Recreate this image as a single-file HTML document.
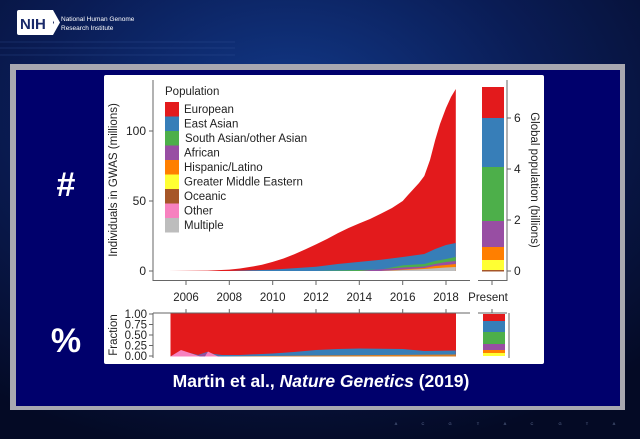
<!DOCTYPE html>
<html><head><meta charset="utf-8"><style>
html,body{margin:0;padding:0;width:640px;height:439px;overflow:hidden;background:#050a2a}
svg{display:block}
</style></head><body>
<svg width="640" height="439" viewBox="0 0 640 439" xmlns="http://www.w3.org/2000/svg" font-family="Liberation Sans, sans-serif">
<defs>
<radialGradient id="bg" cx="0.45" cy="0.25" r="0.8">
<stop offset="0" stop-color="#123a8a"/><stop offset="0.5" stop-color="#0a1c55"/><stop offset="1" stop-color="#040a25"/>
</radialGradient>
</defs>
<rect width="640" height="439" fill="url(#bg)"/>
<rect x="17" y="10" width="36" height="25" rx="2" fill="#fff"/>
<text x="20" y="29" font-size="15" font-weight="bold" fill="#1a2a6a">NIH</text>
<polygon points="47,10 53,10 60,22.5 53,35 47,35 54,22.5" fill="#fff"/>
<text x="61" y="21" font-size="6.5" fill="#fff">National Human Genome</text>
<text x="61" y="30" font-size="6.5" fill="#fff">Research Institute</text>
<g stroke="#3a5aa0" stroke-width="0.5" opacity="0.6">
<line x1="0" y1="42" x2="235" y2="42"/><line x1="0" y1="48" x2="235" y2="48"/><line x1="0" y1="55" x2="235" y2="55"/>
</g>
<rect x="10" y="64" width="615" height="346" fill="#a8a8b0"/>
<rect x="16" y="70" width="604" height="336" fill="#00006c"/>
<text x="66" y="196" font-size="34" font-weight="bold" fill="#fff" text-anchor="middle">#</text>
<text x="66" y="352" font-size="34" font-weight="bold" fill="#fff" text-anchor="middle">%</text>
<rect x="104" y="75" width="440" height="289" rx="2" fill="#fff"/>
<text x="321" y="387" font-size="17.5" font-weight="bold" fill="#fff" text-anchor="middle">Martin et al., <tspan font-style="italic">Nature Genetics</tspan> (2019)</text>
<path d="M168.7,271 L207.7,270.6 229.3,269.6 240,268.5 251,266.8 262,264.8 272.7,261.9 283.5,258.5 294.3,254.2 305,249.5 316,244.4 327,239 337.7,233.2 348.5,228 359.3,223.4 370,219 381,213.6 392,208 402.7,201 408,195 413.5,189 419,183 424.3,176 430,160 435.2,140 440,124 446,108 451,97 455.8,89 L455.8,271 Z" fill="#e31a1c"/>
<path d="M229,271 L272.7,269.6 316,266.8 337.7,264 359.3,261.9 381,259.8 402.7,257 424.3,254 435.2,249 446,245 455.8,243 L455.8,271 Z" fill="#377eb8"/>
<path d="M316,271 L381,269.5 402.7,265.4 424.3,264 435.2,261 446,259 455.8,257 L455.8,271 Z" fill="#4daf4a"/>
<path d="M359,271 L402.7,267.5 424.3,266.5 435.2,264 446,262 455.8,261 L455.8,271 Z" fill="#984ea3"/>
<path d="M381,271 L424.3,268 435.2,266 446,265 455.8,264 L455.8,271 Z" fill="#ff7f00"/>
<path d="M381,271 L424.3,269 446,267.5 455.8,267 L455.8,271 Z" fill="#bdbdbd"/>
<g stroke="#666" stroke-width="1" fill="none">
<polyline points="153,80 153,280.5 470,280.5"/>
<line x1="149" y1="271" x2="153" y2="271"/><line x1="149" y1="201" x2="153" y2="201"/><line x1="149" y1="131" x2="153" y2="131"/>
<line x1="186" y1="280.5" x2="186" y2="285"/><line x1="229.3" y1="280.5" x2="229.3" y2="285"/><line x1="272.7" y1="280.5" x2="272.7" y2="285"/><line x1="316" y1="280.5" x2="316" y2="285"/><line x1="359.3" y1="280.5" x2="359.3" y2="285"/><line x1="402.7" y1="280.5" x2="402.7" y2="285"/><line x1="446" y1="280.5" x2="446" y2="285"/>
<polyline points="478,280.5 507,280.5 507,80"/>
<line x1="492" y1="280.5" x2="492" y2="285"/>
<line x1="507" y1="118" x2="511" y2="118"/><line x1="507" y1="169" x2="511" y2="169"/><line x1="507" y1="220" x2="511" y2="220"/><line x1="507" y1="271" x2="511" y2="271"/>
</g>
<g font-size="12" fill="#222" text-anchor="end">
<text x="146" y="275">0</text><text x="146" y="205">50</text><text x="146" y="135">100</text>
</g>
<g font-size="11.5" fill="#222" text-anchor="middle">
<text x="186" y="301">2006</text><text x="229.3" y="301">2008</text><text x="272.7" y="301">2010</text><text x="316" y="301">2012</text><text x="359.3" y="301">2014</text><text x="402.7" y="301">2016</text><text x="446" y="301">2018</text><text x="488" y="301">Present</text>
</g>
<g font-size="12" fill="#222">
<text x="514" y="122">6</text><text x="514" y="173">4</text><text x="514" y="224">2</text><text x="514" y="275">0</text>
</g>
<text transform="translate(117,180) rotate(-90)" font-size="11.5" fill="#222" text-anchor="middle">Individuals in GWAS (millions)</text>
<text transform="translate(531,180) rotate(90)" font-size="11.5" fill="#222" text-anchor="middle">Global population (billions)</text>
<rect x="482" y="87" width="22" height="31" fill="#e31a1c"/>
<rect x="482" y="118" width="22" height="49" fill="#377eb8"/>
<rect x="482" y="167" width="22" height="54" fill="#4daf4a"/>
<rect x="482" y="221" width="22" height="26" fill="#984ea3"/>
<rect x="482" y="247" width="22" height="13" fill="#ff7f00"/>
<rect x="482" y="260" width="22" height="10" fill="#ffff33"/>
<rect x="482" y="270" width="22" height="1.5" fill="#a65628"/>
<text x="165" y="95" font-size="11.5" fill="#222">Population</text>
<g font-size="11.5" fill="#222">
<rect x="165" y="102" width="14" height="14.5" fill="#e31a1c"/><text x="184" y="113">European</text>
<rect x="165" y="116.5" width="14" height="14.5" fill="#377eb8"/><text x="184" y="127.5">East Asian</text>
<rect x="165" y="131" width="14" height="14.5" fill="#4daf4a"/><text x="185" y="142">South Asian/other Asian</text>
<rect x="165" y="145.5" width="14" height="14.5" fill="#984ea3"/><text x="184" y="156.5">African</text>
<rect x="165" y="160" width="14" height="14.5" fill="#ff7f00"/><text x="184" y="171">Hispanic/Latino</text>
<rect x="165" y="174.5" width="14" height="14.5" fill="#ffff33"/><text x="184" y="185.5">Greater Middle Eastern</text>
<rect x="165" y="189" width="14" height="14.5" fill="#a65628"/><text x="184" y="200">Oceanic</text>
<rect x="165" y="203.5" width="14" height="14.5" fill="#f781bf"/><text x="184" y="214.5">Other</text>
<rect x="165" y="218" width="14" height="14.5" fill="#bdbdbd"/><text x="184" y="229">Multiple</text>
</g>
<rect x="170.5" y="313.5" width="285.5" height="43" fill="#e31a1c"/>
<path d="M170.5,356.5 L180,351 190,353 198,355 207,352 214,354 222,355 240,355 272.7,353.5 294,352 316,350 337.7,349 359.3,348.5 402.7,349 424.3,351 455.8,350.5 L455.8,356.5 Z" fill="#377eb8"/>
<path d="M170.5,356.5 L180,351 190,353.5 198,355.5 207,352.5 214,355 222,356.5 Z" fill="#984ea3"/>
<path d="M170.5,356.5 L181,350 193,354 200,356.5 Z M205,356.5 L208,351.5 214,354.5 218,356.5 Z" fill="#f781bf"/>
<path d="M222,356.5 L316,355.5 455.8,354.5 455.8,356.5 Z" fill="#ff7f00" opacity="0.8"/>
<g stroke="#666" stroke-width="1" fill="none">
<polyline points="153,313 153,358"/>
<line x1="153" y1="313" x2="470" y2="313"/>
<line x1="149" y1="314" x2="153" y2="314"/><line x1="149" y1="324.5" x2="153" y2="324.5"/><line x1="149" y1="335" x2="153" y2="335"/><line x1="149" y1="345.5" x2="153" y2="345.5"/><line x1="149" y1="356" x2="153" y2="356"/>
<line x1="186" y1="313" x2="186" y2="309"/><line x1="229.3" y1="313" x2="229.3" y2="309"/><line x1="272.7" y1="313" x2="272.7" y2="309"/><line x1="316" y1="313" x2="316" y2="309"/><line x1="359.3" y1="313" x2="359.3" y2="309"/><line x1="402.7" y1="313" x2="402.7" y2="309"/><line x1="446" y1="313" x2="446" y2="309"/>
<line x1="478" y1="313" x2="507" y2="313"/><line x1="492" y1="313" x2="492" y2="309"/>
<line x1="509" y1="313" x2="509" y2="358"/>
</g>
<g font-size="11.5" fill="#222" text-anchor="end">
<text x="147" y="318">1.00</text><text x="147" y="328.5">0.75</text><text x="147" y="339">0.50</text><text x="147" y="349.5">0.25</text><text x="147" y="360">0.00</text>
</g>
<text transform="translate(117,335) rotate(-90)" font-size="11.5" fill="#222" text-anchor="middle">Fraction</text>
<rect x="483" y="314" width="22" height="7" fill="#e31a1c"/>
<rect x="483" y="321" width="22" height="11" fill="#377eb8"/>
<rect x="483" y="332" width="22" height="12" fill="#4daf4a"/>
<rect x="483" y="344" width="22" height="6" fill="#984ea3"/>
<rect x="483" y="350" width="22" height="3" fill="#ff7f00"/>
<rect x="483" y="353" width="22" height="3" fill="#ffff33"/>
<g font-size="4" fill="#6a7aa0" text-anchor="middle">
<text x="396" y="425">A</text><text x="423" y="425">C</text><text x="450" y="425">G</text><text x="478" y="425">T</text><text x="505" y="425">A</text><text x="532" y="425">C</text><text x="560" y="425">G</text><text x="587" y="425">T</text><text x="614" y="425">A</text>
</g>
</svg>
</body></html>
